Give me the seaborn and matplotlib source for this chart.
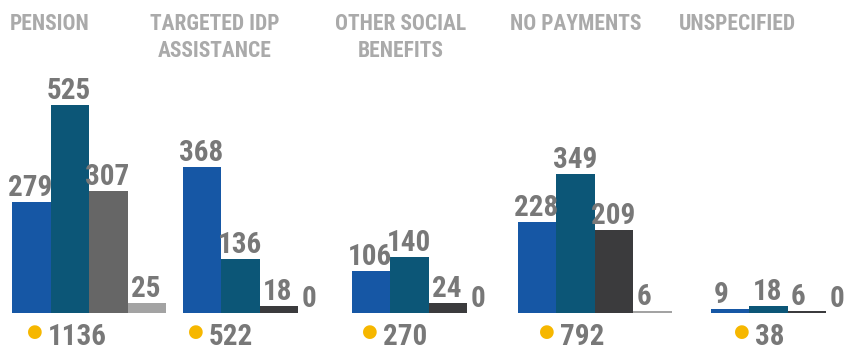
import matplotlib
matplotlib.use("Agg")
import matplotlib.pyplot as plt
import seaborn as sns
import pandas as pd
from matplotlib import font_manager

# ---- data ----
categories = ["PENSION", "TARGETED IDP\nASSISTANCE", "OTHER SOCIAL\nBENEFITS", "NO PAYMENTS", "UNSPECIFIED"]
series = ["s1", "s2", "s3", "s4"]
s1 = [279, 368, 106, 228, 9]
s2 = [525, 136, 140, 349, 18]
s3 = [307, 18, 24, 209, 6]
s4 = [25, 0, 0, 6, 0]
totals = [1136, 522, 270, 792, 38]

# ---- style ----
sns.set_theme(style="white")
names = {f.name for f in font_manager.fontManager.ttflist}
font = "DejaVu Sans"
for cand in ["Roboto Condensed", "Archivo Narrow", "Asap Condensed",
             "Barlow Semi Condensed", "Barlow Condensed", "Liberation Sans Narrow"]:
    if cand in names:
        font = cand
        break
plt.rcParams["font.family"] = [font, "DejaVu Sans"]

BLUE = "#1657a5"
TEAL = "#0c5677"
MIDGRAY = "#666666"
DARK = "#3b3b3d"
LIGHT = "#a3a3a3"
palettes = [
    [BLUE, TEAL, MIDGRAY, LIGHT],
    [BLUE, TEAL, DARK, LIGHT],
    [BLUE, TEAL, DARK, LIGHT],
    [BLUE, TEAL, DARK, LIGHT],
    [BLUE, TEAL, DARK, LIGHT],
]
LABEL = "#787878"
TITLE = "#aaaaaa"
DOT = "#f6b700"

W, H = 845, 351
fig = plt.figure(figsize=(W / 100, H / 100), dpi=100)
PT = 0.72  # points per pixel at 100 dpi

# layout (pixels)
group_left = [12, 183, 352, 518, 711]
title_cx = [50, 215, 401, 576, 737]
dot_cx = [35, 196, 370, 547, 742]
group_w = 154
base_y = 313
ymax = 600
ax_h = ymax * 0.397

for i, cat in enumerate(categories):
    vals = [s1[i], s2[i], s3[i], s4[i]]
    df = pd.DataFrame({"series": series, "value": vals})
    ax = fig.add_axes([group_left[i] / W, (H - base_y) / H, group_w / W, ax_h / H])
    sns.barplot(data=df, x="series", y="value", hue="series", palette=palettes[i],
                width=1.0, legend=False, ax=ax, saturation=1, linewidth=0)
    ax.set_xlim(-0.5, 3.5)
    ax.set_ylim(0, ymax)
    ax.axis("off")
    for j, v in enumerate(vals):
        txt = str(v)
        if len(txt) >= 3:
            xy, dx, ha = (j, v), -1, "center"
        else:
            xy, dx, ha = (j - 0.5, v), 3, "left"
        ax.annotate(txt, xy, xytext=(dx * PT, 6 * PT), textcoords="offset points",
                    ha=ha, va="baseline", fontsize=21, fontweight="bold",
                    color=LABEL, annotation_clip=False)
    # title
    fig.text(title_cx[i] / W, 1 - 13 / H, cat, ha="center", va="top", fontsize=15.5,
             fontweight="bold", color=TITLE, linespacing=1.3)
    # total with dot
    fig.text(dot_cx[i] / W, 1 - 332 / H, "\u25cf", ha="center", va="center",
             fontsize=13, color=DOT, family="DejaVu Sans")
    fig.text((dot_cx[i] + 13) / W, 1 - 345 / H, str(totals[i]), ha="left", va="baseline",
             fontsize=21, fontweight="bold", color=LABEL)

fig.savefig("out.png", dpi=100)
